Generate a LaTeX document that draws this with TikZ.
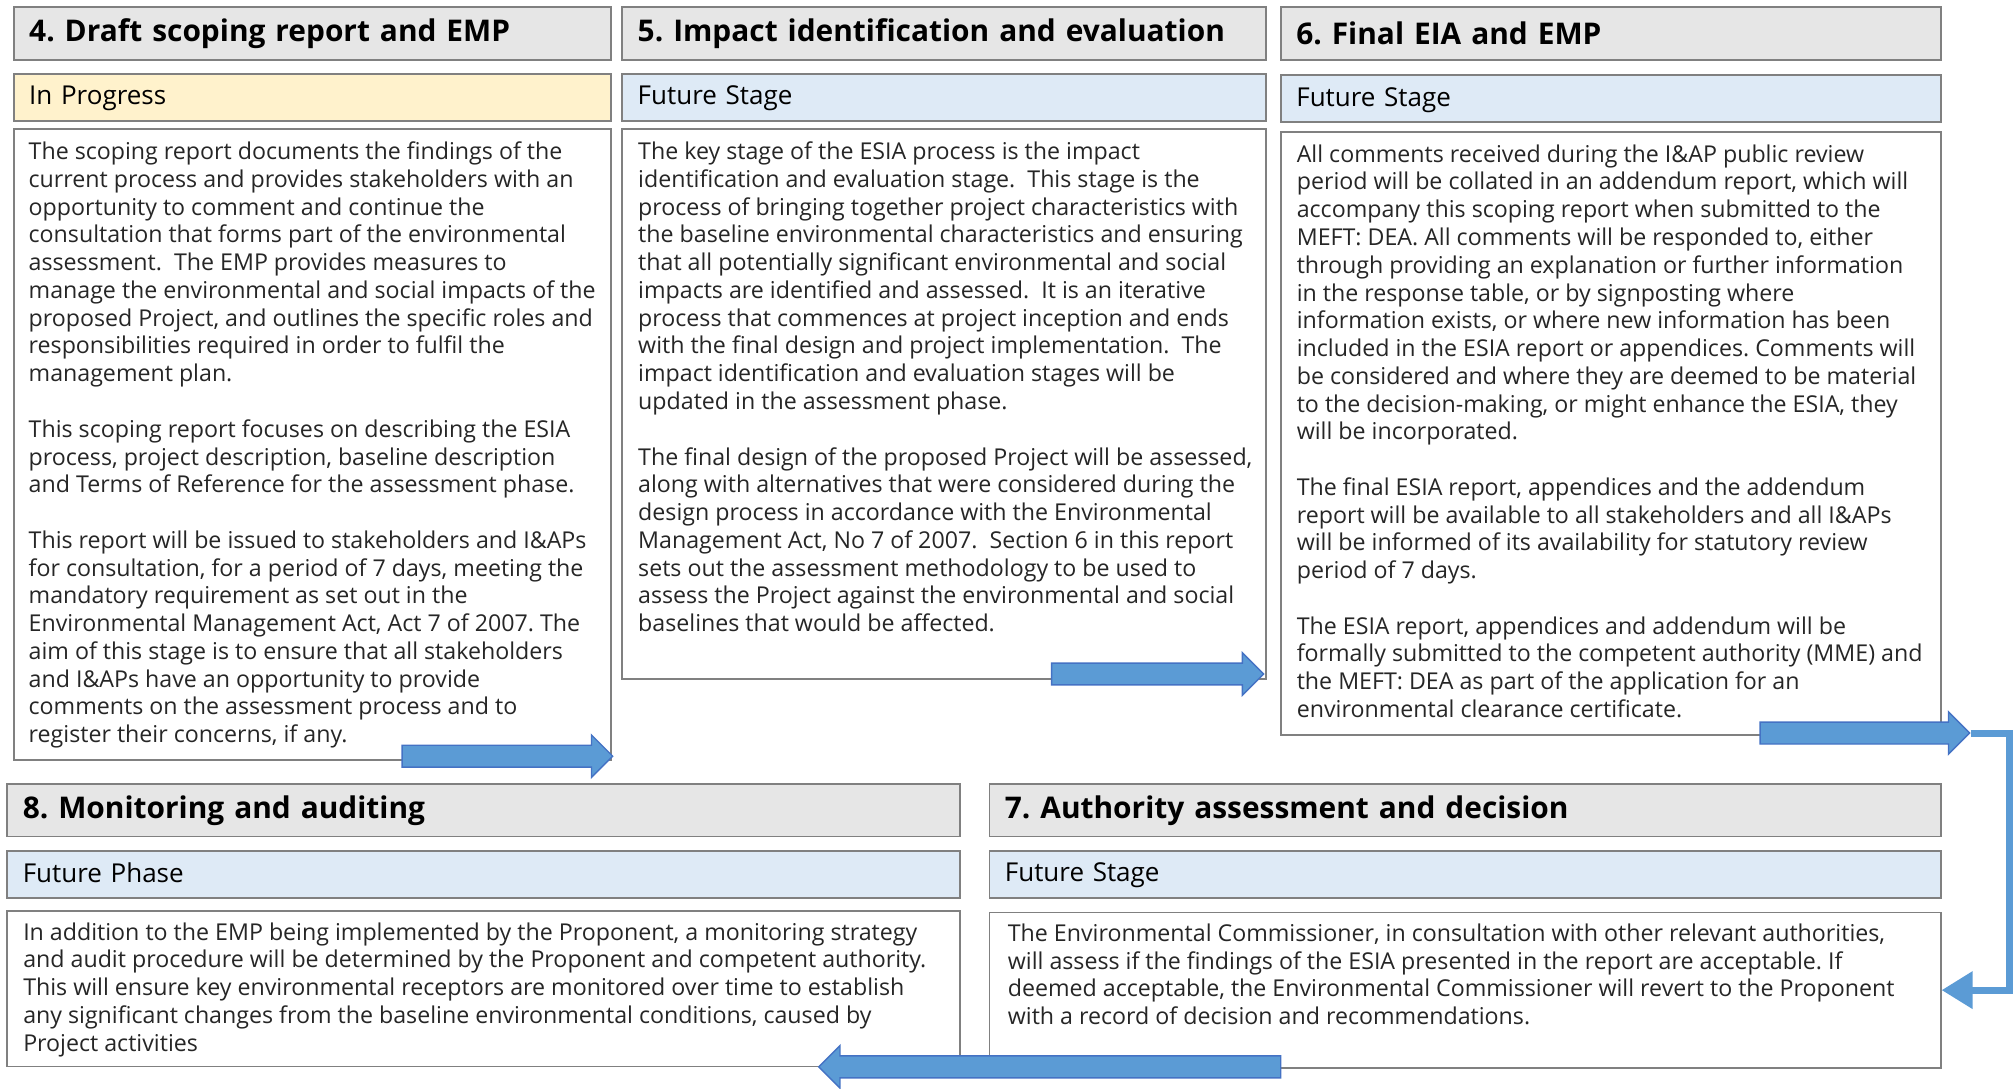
\documentclass[tikz,border=0pt]{standalone}
\usepackage{fontspec}
\setmainfont{Open Sans}
\usetikzlibrary{positioning,shapes.arrows,arrows.meta}

\definecolor{boxgray}{HTML}{808080}
\definecolor{titlegray}{HTML}{E6E6E6}
\definecolor{progressyellow}{HTML}{FFF2CC}
\definecolor{futureblue}{HTML}{DEEAF6}
\definecolor{arrowblue}{HTML}{5B9BD5}
\definecolor{arrowline}{HTML}{4472C4}
\frenchspacing

\begin{document}
\begin{tikzpicture}[x=0.02568cm, y=-0.02568cm,
    every node/.style={anchor=north west, inner sep=0pt},
    titlebox/.style={draw=boxgray, fill=titlegray, line width=1pt, minimum height=1.05cm, inner xsep=0.31cm, align=left, font=\fontsize{17}{19}\selectfont\bfseries},
    statusbox/.style={draw=boxgray, line width=1pt, minimum height=0.94cm, inner xsep=0.31cm, align=left, text depth=0.08cm, font=\fontsize{14.8}{17}\selectfont},
    bodybox/.style={draw=boxgray, fill=white, line width=1pt},
    bodytext/.style={align=left, text=black!85, font=\fontsize{13.2}{15.8}\selectfont},
    blockarrow/.style={single arrow, draw=arrowline, fill=arrowblue, line width=0.8pt, inner xsep=0pt, inner ysep=0.205cm, minimum width=0.82cm, single arrow head extend=0.205cm, single arrow tip angle=90},
    elbow/.style={draw=arrowblue, line width=0.14cm, -{Triangle[length=0.62cm, width=0.72cm]}},
    ]
  \useasboundingbox (0,0) rectangle (1568,848);

  % top row
  \node[titlebox, text width=11.32cm] (title4) at (10,5) {4. Draft scoping report and EMP};
  \node[statusbox, fill=progressyellow, text width=11.32cm] (status4) at (10,57) {In Progress};
  \node[bodybox, minimum width=11.94cm, minimum height=12.61cm] (body4) at (10,100) {};
  \node[bodytext, below right=0.23cm and 0.31cm of body4.north west] (text4) {\strut The scoping report documents the findings of the\\
    current process and provides stakeholders with an\\
    opportunity to comment and continue the\\
    consultation that forms part of the environmental\\
    assessment.\ \ The EMP provides measures to\\
    manage the environmental and social impacts of the\\
    proposed Project, and outlines the specific roles and\\
    responsibilities required in order to fulfil the\\
    management plan.\\[15.8pt]
    This scoping report focuses on describing the ESIA\\
    process, project description, baseline description\\
    and Terms of Reference for the assessment phase.\\[15.8pt]
    This report will be issued to stakeholders and I\&APs\\
    for consultation, for a period of 7 days, meeting the\\
    mandatory requirement as set out in the\\
    Environmental Management Act, Act 7 of 2007. The\\
    aim of this stage is to ensure that all stakeholders\\
    and I\&APs have an opportunity to provide\\
    comments on the assessment process and to\\
    register their concerns, if any.};

  \node[titlebox, text width=12.25cm] (title5) at (484,5) {5. Impact identification and evaluation};
  \node[statusbox, fill=futureblue, text width=12.25cm] (status5) at (484,57) {Future Stage};
  \node[bodybox, minimum width=12.87cm, minimum height=10.99cm] (body5) at (484,100) {};
  \node[bodytext, below right=0.23cm and 0.33cm of body5.north west] (text5) {\strut The key stage of the ESIA process is the impact\\
    identification and evaluation stage.\ \ This stage is the\\
    process of bringing together project characteristics with\\
    the baseline environmental characteristics and ensuring\\
    that all potentially significant environmental and social\\
    impacts are identified and assessed.\ \ It is an iterative\\
    process that commences at project inception and ends\\
    with the final design and project implementation.\ \ The\\
    impact identification and evaluation stages will be\\
    updated in the assessment phase.\\[15.8pt]
    The final design of the proposed Project will be assessed,\\
    along with alternatives that were considered during the\\
    design process in accordance with the Environmental\\
    Management Act, No 7 of 2007.\ \ Section 6 in this report\\
    sets out the assessment methodology to be used to\\
    assess the Project against the environmental and social\\
    baselines that would be affected.};

  \node[titlebox, text width=12.58cm] (title6) at (997,5) {6. Final EIA and EMP};
  \node[statusbox, fill=futureblue, text width=12.58cm] (status6) at (997,58) {Future Stage};
  \node[bodybox, minimum width=13.20cm, minimum height=12.07cm] (body6) at (997,102) {};
  \node[bodytext, below right=0.23cm and 0.33cm of body6.north west] (text6) {\strut All comments received during the I\&AP public review\\
    period will be collated in an addendum report, which will\\
    accompany this scoping report when submitted to the\\
    MEFT: DEA. All comments will be responded to, either\\
    through providing an explanation or further information\\
    in the response table, or by signposting where\\
    information exists, or where new information has been\\
    included in the ESIA report or appendices. Comments will\\
    be considered and where they are deemed to be material\\
    to the decision-making, or might enhance the ESIA, they\\
    will be incorporated.\\[15.8pt]
    The final ESIA report, appendices and the addendum\\
    report will be available to all stakeholders and all I\&APs\\
    will be informed of its availability for statutory review\\
    period of 7 days.\\[15.8pt]
    The ESIA report, appendices and addendum will be\\
    formally submitted to the competent authority (MME) and\\
    the MEFT: DEA as part of the application for an\\
    environmental clearance certificate.};

  % bottom row
  \node[titlebox, text width=18.43cm] (title8) at (5,610) {8. Monitoring and auditing};
  \node[statusbox, fill=futureblue, text width=18.43cm] (status8) at (5,662) {Future Phase};
  \node[bodybox, minimum width=19.05cm, minimum height=3.11cm] (body8) at (5,709) {};
  \node[bodytext, below right=0.2cm and 0.33cm of body8.north west] (text8) {\strut In addition to the EMP being implemented by the Proponent, a monitoring strategy\\
    and audit procedure will be determined by the Proponent and competent authority.\\
    This will ensure key environmental receptors are monitored over time to establish\\
    any significant changes from the baseline environmental conditions, caused by\\
    Project activities};

  \node[titlebox, text width=18.41cm] (title7) at (770,610) {7. Authority assessment and decision};
  \node[statusbox, fill=futureblue, text width=18.41cm] (status7) at (770,662) {Future Stage};
  \node[bodybox, minimum width=19.03cm, minimum height=3.11cm] (body7) at (770,710) {};
  \node[bodytext, below right=0.2cm and 0.38cm of body7.north west] (text7) {\strut The Environmental Commissioner, in consultation with other relevant authorities,\\
    will assess if the findings of the ESIA presented in the report are acceptable. If\\
    deemed acceptable, the Environmental Commissioner will revert to the Proponent\\
    with a record of decision and recommendations.};

  % arrows
  \node[blockarrow, minimum height=4.21cm, anchor=tip] (arr45) at (478,589) {};
  \node[blockarrow, minimum height=4.24cm, anchor=tip] (arr56) at (985,525) {};
  \node[blockarrow, minimum height=4.19cm, anchor=tip] (arr67) at (1535,571) {};
  \node[blockarrow, minimum height=9.24cm, shape border rotate=180, anchor=tip] (arr78) at (637,831) {};
  \draw[elbow] (arr67.tip) -- ++(30,0) |- (body7.east);

\end{tikzpicture}
\end{document}
